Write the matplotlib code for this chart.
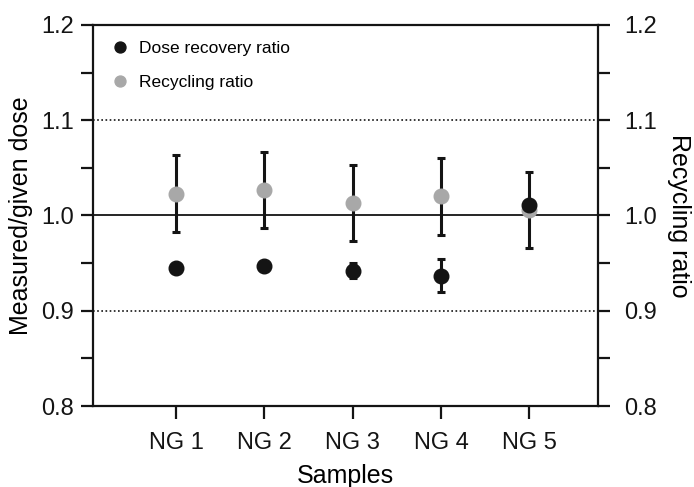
import matplotlib
matplotlib.use("Agg")
import matplotlib.pyplot as plt
from matplotlib.ticker import MultipleLocator

plt.rcParams['font.family'] = ['Liberation Sans', 'DejaVu Sans']

samples = ["NG 1", "NG 2", "NG 3", "NG 4", "NG 5"]
dose_recovery = [0.945, 0.947, 0.942, 0.937, 1.011]
dose_recovery_err = [0.0, 0.0, 0.008, 0.017, 0.0]
recycling = [1.023, 1.027, 1.013, 1.020, 1.006]
recycling_err = [0.040, 0.040, 0.040, 0.040, 0.040]

x = list(range(1, len(samples) + 1))
BLACK = "#141414"
GREY = "#a8a8a8"

fig = plt.figure(figsize=(6.94, 4.87), dpi=100)
ax = fig.add_axes([0.134, 0.166, 0.728, 0.783])

ax.axhline(1.0, color=BLACK, lw=1.3, zorder=1)
ax.axhline(1.1, color=BLACK, lw=1.2, ls=(0, (1, 1.5)), zorder=1)
ax.axhline(0.9, color=BLACK, lw=1.2, ls=(0, (1, 1.5)), zorder=1)

ax.errorbar(x, recycling, yerr=recycling_err, fmt='none', ecolor=BLACK,
            elinewidth=2.2, capsize=3.2, capthick=2.2, zorder=2)
ax.errorbar(x, dose_recovery, yerr=dose_recovery_err, fmt='none', ecolor=BLACK,
            elinewidth=2.2, capsize=3.2, capthick=2.2, zorder=2)
ax.plot(x, recycling, 'o', color=GREY, ms=10.5, mec=GREY, ls='none', zorder=3,
        label="Recycling ratio")
ax.plot(x, dose_recovery, 'o', color=BLACK, ms=10.5, mec=BLACK, ls='none', zorder=4,
        label="Dose recovery ratio")

ax.set_xlim(0.06, 5.78)
ax.set_ylim(0.8, 1.2)
ax.set_xticks(x)
ax.set_xticklabels(samples)
ax.yaxis.set_major_locator(MultipleLocator(0.1))
ax.yaxis.set_minor_locator(MultipleLocator(0.05))
ax.yaxis.set_major_formatter(plt.FuncFormatter(lambda v, p: f"{v:.1f}"))

for s in ax.spines.values():
    s.set_linewidth(1.6)
    s.set_color(BLACK)

ax.tick_params(axis='both', which='both', direction='out', length=8.5, width=1.6,
               colors=BLACK, labelsize=17)
ax.tick_params(axis='y', which='both', left=True, right=False)
ax.tick_params(axis='x', length=9.5, pad=9)
ax.tick_params(axis='y', pad=5)

ax.set_xlabel("Samples", fontsize=18, labelpad=7)
ax.set_ylabel("Measured/given dose", fontsize=18, labelpad=6)

ax2 = ax.twinx()
ax2.set_ylim(0.8, 1.2)
ax2.yaxis.set_major_locator(MultipleLocator(0.1))
ax2.yaxis.set_minor_locator(MultipleLocator(0.05))
ax2.yaxis.set_major_formatter(plt.FuncFormatter(lambda v, p: f"{v:.1f}"))
ax2.tick_params(axis='y', which='both', direction='out', length=8.5, width=1.6,
                colors=BLACK, labelsize=17, pad=10)
for s in ax2.spines.values():
    s.set_visible(False)
ax2.set_ylabel("Recycling ratio", fontsize=18, rotation=270, labelpad=25)

handles, labels = ax.get_legend_handles_labels()
leg = ax.legend(handles[::-1], labels[::-1], loc='upper left', frameon=False,
                fontsize=12.5, markerscale=0.75, handlelength=0.6, handletextpad=0.8,
                labelspacing=1.12, borderaxespad=0.5, bbox_to_anchor=(0.012, 1.0))

fig.savefig("out.png", dpi=100)
